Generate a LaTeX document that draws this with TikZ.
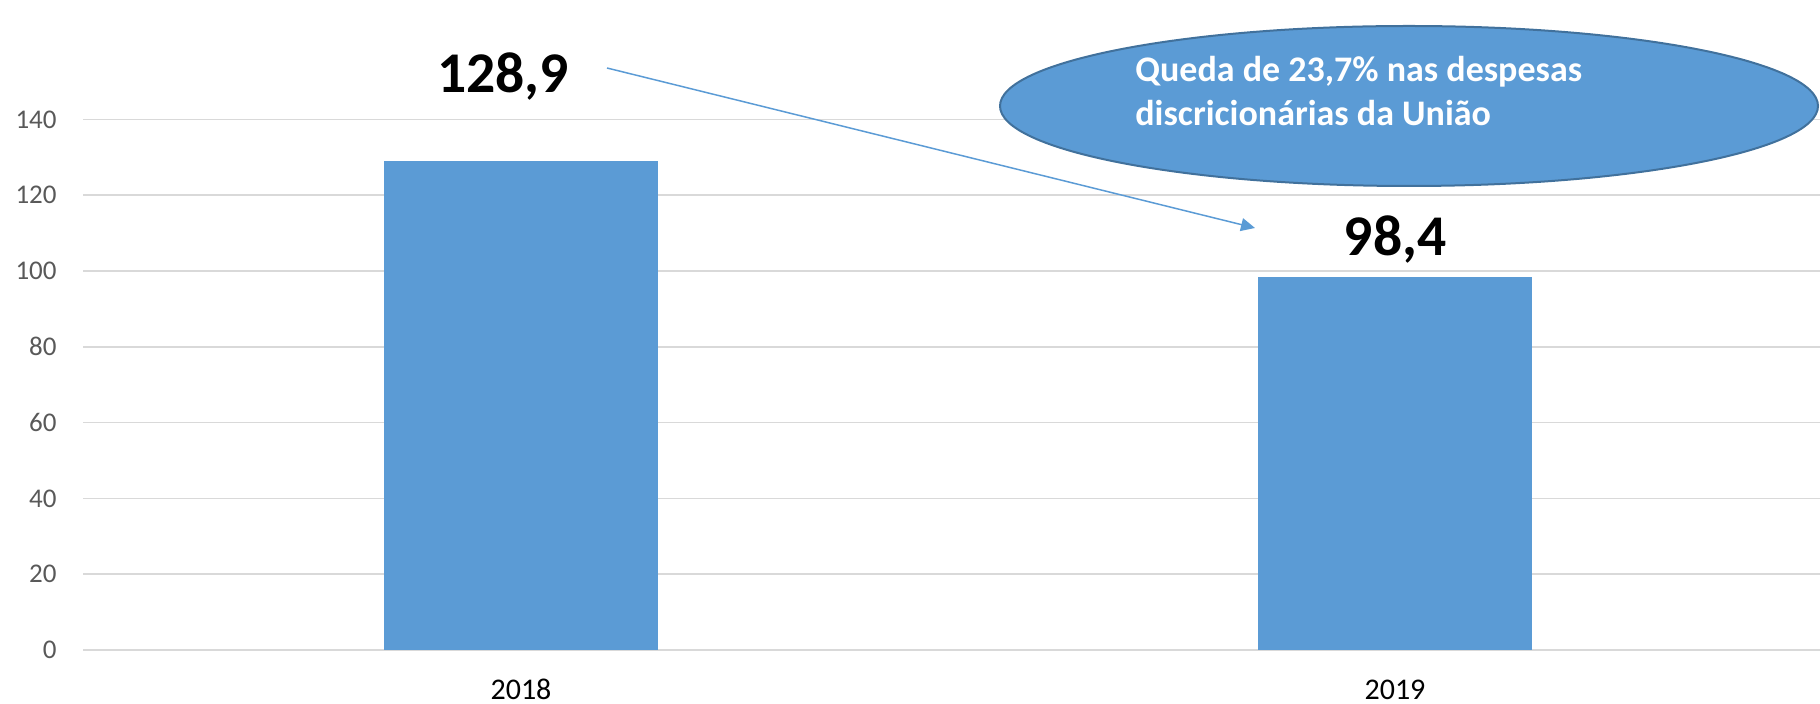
\documentclass[tikz,border=0pt]{standalone}
\usepackage{fontspec}
\setmainfont{Carlito}
\usetikzlibrary{arrows.meta,shapes.geometric}
\definecolor{barblue}{HTML}{5B9BD5}
\definecolor{edgeblue}{HTML}{41719C}
\definecolor{gridgray}{HTML}{D9D9D9}
\definecolor{axisgray}{HTML}{595959}
\tikzset{
  gridline/.style={draw=gridgray, line width=0.75pt},
  axislabel/.style={anchor=east, inner sep=0pt, text=axisgray, font=\fontsize{13.5}{16}\selectfont},
  catlabel/.style={anchor=base, inner sep=0pt, text=black, font=\fontsize{15}{18}\selectfont},
  barbox/.style={fill=barblue, draw=none, anchor=south, inner sep=0pt, minimum width=137pt},
  valuelabel/.style={anchor=base, inner sep=0pt, font=\fontsize{28.8}{32}\selectfont\bfseries},
  callout/.style={ellipse, draw=edgeblue, fill=barblue, line width=1pt, inner sep=0pt, minimum width=409pt, minimum height=80pt},
  callouttext/.style={anchor=north west, inner sep=0pt, align=left, text=white, font=\fontsize{18}{22}\selectfont\bfseries},
  trendarrow/.style={draw=barblue, line width=0.75pt, -{Triangle[length=7pt,width=6.5pt]}}
}
\begin{document}
\begin{tikzpicture}[x=0.5pt,y=-0.5pt]
\useasboundingbox (0,0) rectangle (1820,704);
% gridlines and axis labels
\foreach \v in {0,...,7}{
  \pgfmathtruncatemacro{\lab}{\v*20}
  \coordinate (gl\v) at (83,{650-\v*75.8});
  \coordinate (gr\v) at (1820,{650-\v*75.8});
  \draw[gridline] (gl\v) -- (gr\v);
  \node[axislabel] (yl\v) at (57,{650-\v*75.8}) {\lab};
}
% bars
\node[barbox, minimum height=244.3pt] (bar2018) at (521,650) {};
\node[barbox, minimum height=186.5pt] (bar2019) at (1394.5,650) {};
% category labels
\node[catlabel] (cat2018) at (521,700) {2018};
\node[catlabel] (cat2019) at (1395,700) {2019};
% value labels
\node[valuelabel] (val2018) at (503,93) {128,9};
\node[valuelabel] (val2019) at (1395,256) {98,4};
% arrow
\coordinate (arrstart) at (607,68);
\coordinate (arrend) at (1255,228);
\draw[trendarrow] (arrstart) -- (arrend);
% callout
\node[callout] (ell) at (1409,106) {};
\node[callouttext] (elltext) at (1135,56) {Queda de 23,7\% nas despesas\\discricionárias da União};
\end{tikzpicture}
\end{document}
